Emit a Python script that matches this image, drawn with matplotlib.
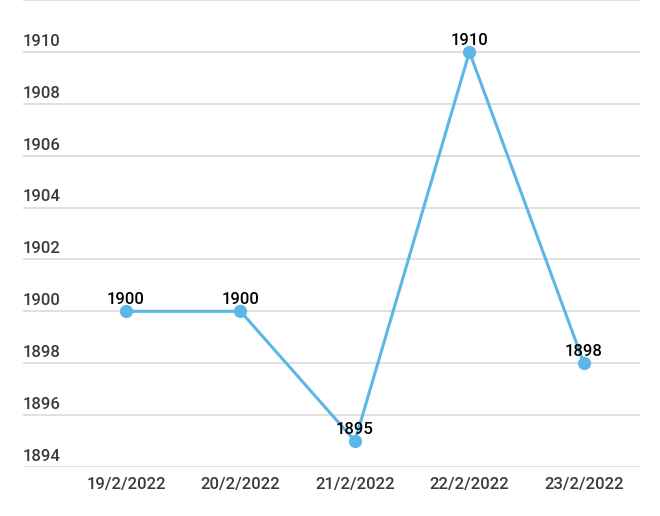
import numpy as np
import matplotlib.pyplot as plt
import matplotlib.transforms as mtransforms

dates = ['19/2/2022', '20/2/2022', '21/2/2022', '22/2/2022', '23/2/2022']
values = [1900, 1900, 1895, 1910, 1898]
y_ticks = [1894, 1896, 1898, 1900, 1902, 1904, 1906, 1908, 1910, 1912]

plt.rcParams['font.family'] = ['Roboto', 'DejaVu Sans']

fig = plt.figure(figsize=(6.6, 5.16), dpi=100)
ax = fig.add_axes([23 / 660, 1 - 467 / 516, (640 - 23) / 660, 467 / 516])

x = np.arange(len(dates))
ax.set_xlim(-0.9, 4.49)
ax.set_ylim(1894, 1912)

for t in y_ticks:
    ax.axhline(t, color='#dddddd', lw=1.3, zorder=0)

trans = mtransforms.blended_transform_factory(ax.transAxes, ax.transData)
for t in y_ticks[:-1]:
    ax.text(0.0, t + 0.12, str(t), transform=trans, ha='left', va='bottom',
            fontsize=12, color='#3a3a3a', fontweight='medium')

ax.plot(x, values, color='#5db7e6', lw=2.2, marker='o', markersize=8.5, zorder=3)
for xi, v in zip(x, values):
    ax.annotate(str(v), (xi, v), xytext=(0, 3), textcoords='offset points',
                ha='center', va='bottom', fontsize=12, color='#000000',
                fontweight='medium', zorder=4)

ax.set_xticks(x)
ax.set_xticklabels(dates, fontsize=12, color='#3a3a3a', fontweight='medium')
ax.tick_params(axis='x', length=0, pad=7)
ax.set_yticks([])
for s in ax.spines.values():
    s.set_visible(False)

fig.savefig('out.png', dpi=100)
